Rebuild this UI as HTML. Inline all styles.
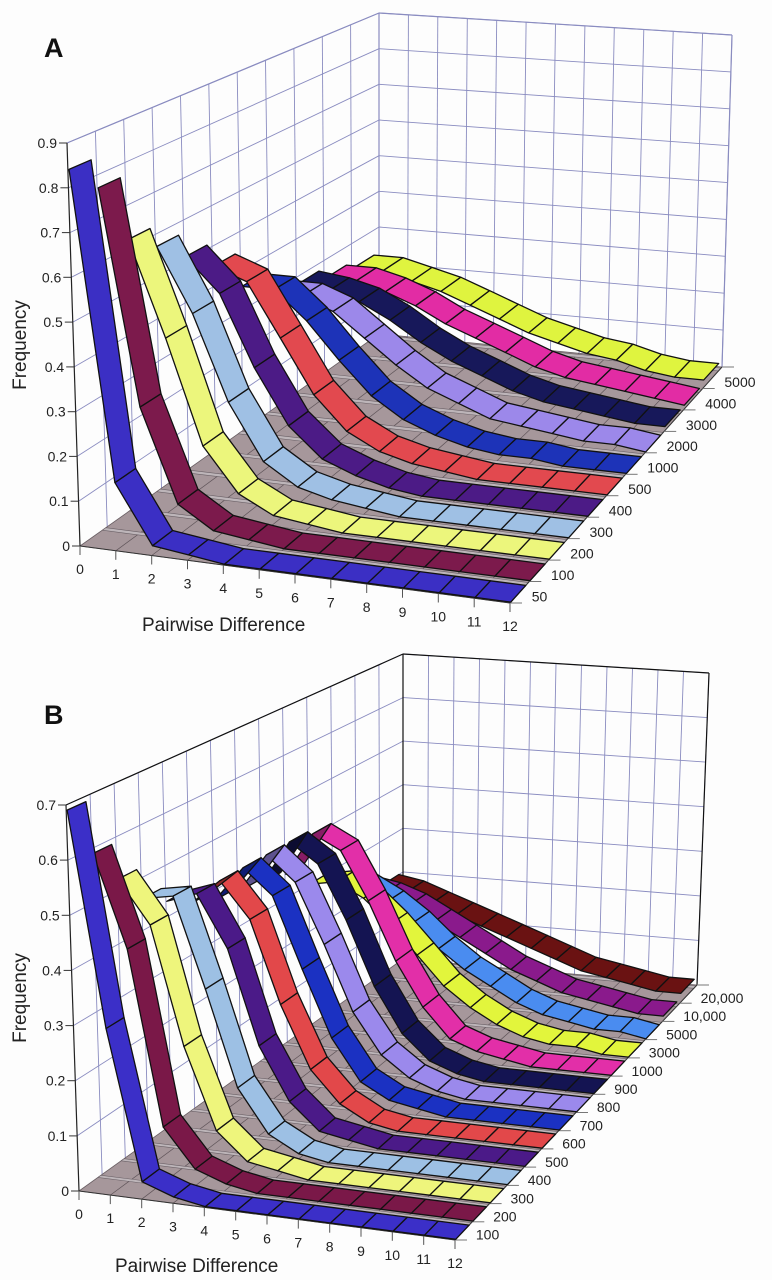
<!DOCTYPE html>
<html><head><meta charset="utf-8"><title>Pairwise difference frequency charts</title>
<style>
html,body{margin:0;padding:0;background:#fff;}
svg{display:block;font-family:"Liberation Sans",Arial,sans-serif;}
</style></head>
<body>
<svg id="chart" xmlns="http://www.w3.org/2000/svg" width="772" height="1280" viewBox="0 0 772 1280">
<rect x="0" y="0" width="772" height="1280" fill="#fdfdfd"/>
<g id="panelA"></g>
<g id="panelB"></g>
<text x="44" y="57" font-size="27" font-weight="bold" fill="#111">A</text>
<text x="44" y="724" font-size="27" font-weight="bold" fill="#111">B</text>
<text transform="translate(26,345) rotate(-90)" text-anchor="middle" font-size="19" fill="#222">Frequency</text>
<text transform="translate(26,998) rotate(-90)" text-anchor="middle" font-size="19" fill="#222">Frequency</text>
<text x="142" y="631" font-size="19" fill="#222">Pairwise Difference</text>
<text x="115" y="1272" font-size="19" fill="#222">Pairwise Difference</text>
</svg>
<script>
// ---------- Panel A data ----------
const aCategories = [0,1,2,3,4,5,6,7,8,9,10,11,12];
const aYTicks = ["0","0.1","0.2","0.3","0.4","0.5","0.6","0.7","0.8","0.9"];
const aSeriesLabels = ["50","100","200","300","400","500","1000","2000","3000","4000","5000"];
const aS50   = [0.84,0.15,0.02,0.01,0,0,0,0,0,0,0,0,0];
const aS100  = [0.77,0.28,0.07,0.02,0.01,0,0,0,0,0,0,0,0];
const aS200  = [0.62,0.40,0.16,0.06,0.02,0.01,0,0,0,0,0,0,0];
const aS300  = [0.57,0.42,0.22,0.09,0.04,0.02,0.01,0,0,0,0,0,0];
const aS400  = [0.51,0.43,0.26,0.13,0.06,0.03,0.01,0,0,0,0,0,0];
const aS500  = [0.45,0.42,0.29,0.16,0.08,0.04,0.02,0.01,0,0,0,0,0];
const aS1000 = [0.36,0.36,0.29,0.20,0.12,0.07,0.04,0.02,0.01,0.01,0,0,0];
const aS2000 = [0.30,0.30,0.27,0.21,0.15,0.10,0.07,0.04,0.03,0.02,0.01,0.01,0];
const aS3000 = [0.28,0.27,0.25,0.21,0.16,0.12,0.09,0.06,0.04,0.03,0.02,0.01,0.01];
const aS4000 = [0.25,0.25,0.23,0.20,0.16,0.13,0.10,0.07,0.05,0.04,0.03,0.02,0.01];
const aS5000 = [0.23,0.23,0.21,0.19,0.16,0.13,0.10,0.08,0.06,0.05,0.03,0.02,0.02];
const aColors = ["#3b2fc4","#7c1a4c","#ecf67c","#9fc0e4","#4c1b86","#e2494f","#1d33b8","#9c88ea","#17185a","#e22ca4","#dff43f"];

// ---------- Panel B data ----------
const bCategories = [0,1,2,3,4,5,6,7,8,9,10,11,12];
const bYTicks = ["0","0.1","0.2","0.3","0.4","0.5","0.6","0.7"];
const bSeriesLabels = ["100","200","300","400","500","600","700","800","900","1000","3000","5000","10,000","20,000"];
const bS100   = [0.69,0.30,0.03,0.01,0,0,0,0,0,0,0,0,0];
const bS200   = [0.59,0.42,0.10,0.03,0.01,0,0,0,0,0,0,0,0];
const bS300   = [0.52,0.44,0.22,0.07,0.02,0.01,0,0,0,0,0,0,0];
const bS400   = [0.46,0.47,0.30,0.12,0.04,0.01,0,0,0,0,0,0,0];
const bS500   = [0.43,0.45,0.35,0.17,0.07,0.02,0.01,0,0,0,0,0,0];
const bS600   = [0.40,0.45,0.38,0.22,0.10,0.04,0.01,0,0,0,0,0,0];
const bS700   = [0.38,0.45,0.40,0.26,0.13,0.05,0.02,0.01,0,0,0,0,0];
const bS800   = [0.37,0.45,0.40,0.28,0.15,0.07,0.03,0.01,0,0,0,0,0];
const bS900   = [0.36,0.45,0.41,0.30,0.17,0.08,0.03,0.01,0,0,0,0,0];
const bS1000  = [0.35,0.44,0.41,0.31,0.19,0.10,0.04,0.02,0.01,0,0,0,0];
const bS3000  = [0.30,0.31,0.28,0.23,0.17,0.11,0.07,0.04,0.02,0.01,0.01,0,0];
const bS5000  = [0.27,0.27,0.24,0.20,0.15,0.11,0.08,0.05,0.03,0.02,0.01,0.01,0];
const bS10000 = [0.23,0.22,0.20,0.17,0.14,0.11,0.08,0.06,0.04,0.03,0.02,0.01,0.01];
const bS20000 = [0.20,0.19,0.17,0.15,0.13,0.11,0.09,0.07,0.05,0.04,0.03,0.02,0.02];
const bColors = ["#3b2fc8","#7a1848","#eef57c","#9dc0e4","#4b1a88","#e2484a","#1b31c2","#9b89ec","#141452","#e22fa8","#e2f53c","#4a8cf0","#8a1a8c","#6a1212"];

const aSeries = [aS50,aS100,aS200,aS300,aS400,aS500,aS1000,aS2000,aS3000,aS4000,aS5000];
const bSeries = [bS100,bS200,bS300,bS400,bS500,bS600,bS700,bS800,bS900,bS1000,bS3000,bS5000,bS10000,bS20000];

const NS = "http://www.w3.org/2000/svg";
function mk(parent, tag, attrs){
  const el = document.createElementNS(NS, tag);
  for (const k in attrs) el.setAttribute(k, attrs[k]);
  parent.appendChild(el);
  return el;
}
function shade(hex, f){
  const n = parseInt(hex.slice(1),16);
  const r = Math.round(((n>>16)&255)*f), g = Math.round(((n>>8)&255)*f), b = Math.round((n&255)*f);
  return "rgb("+r+","+g+","+b+")";
}

function drawPanel(g, geo, cats, yTicks, yStep, labels, series, colors, wallStroke, edgeStroke){
  const ymax = yStep*(yTicks.length-1);
  const N = series.length;
  const xmax = cats[cats.length-1];
  function lerp(a,b,t){ return [a[0]+(b[0]-a[0])*t, a[1]+(b[1]-a[1])*t]; }
  function P(u,v,h){
    const fb = lerp(lerp(geo.FLb,geo.FRb,u), lerp(geo.BLb,geo.BRb,u), v);
    const ft = lerp(lerp(geo.FLt,geo.FRt,u), lerp(geo.BLt,geo.BRt,u), v);
    return [fb[0]+(ft[0]-fb[0])*h, fb[1]+(ft[1]-fb[1])*h];
  }
  const xs = function(x){ return x/xmax; };
  const hs = function(y){ return y/ymax; };
  function line(a,b,stroke,w,name){
    const el = mk(g,"line",{x1:a[0].toFixed(1),y1:a[1].toFixed(1),x2:b[0].toFixed(1),y2:b[1].toFixed(1),stroke:stroke,"stroke-width":w});
    
    
    return el;
  }
  function poly(pts, fill, stroke, w, name){
    const el = mk(g,"polygon",{points:pts.map(p=>p[0].toFixed(1)+","+p[1].toFixed(1)).join(" "),fill:fill,stroke:stroke,"stroke-width":w,"stroke-linejoin":"round"});
    
    
    return el;
  }
  for (let j=1;j<yTicks.length;j++){
    const h = hs(j*yStep);
    line(P(0,0,h),P(0,1,h),wallStroke,0.9,"left-wall-gridline");
    line(P(0,1,h),P(1,1,h),wallStroke,0.9,"back-wall-gridline");
  }
  for (let i=1;i<=N;i++){
    const v = i/N;
    line(P(0,v,0),P(0,v,1),wallStroke,0.9,"left-wall-vertical-gridline");
  }
  for (let k=0;k<cats.length;k++){
    const u = xs(cats[k]);
    line(P(u,1,0),P(u,1,1),wallStroke,0.9,"back-wall-vertical-gridline");
  }
  line(P(0,0,1),P(0,1,1),edgeStroke,1.2,"left-wall-top-edge");
  line(P(0,1,1),P(1,1,1),edgeStroke,1.2,"back-wall-top-edge");
  line(P(0,1,0),P(0,1,1),edgeStroke,1.2,"back-corner-edge");
  line(P(1,1,0),P(1,1,1),edgeStroke,1.2,"back-right-edge");
  poly([P(0,0,0),P(1,0,0),P(1,1,0),P(0,1,0)],"#a6979b","#6a5f64",0.8,"floor");
  for (let k=1;k<cats.length-1;k++){
    const u = xs(cats[k]);
    line(P(u,0,0),P(u,1,0),"#5f5459",0.7,"floor-gridline");
  }
  for (let i=0;i<N;i++){
    poly([P(0,(i+0.82)/N,0),P(1,(i+0.82)/N,0),P(1,(i+0.95)/N,0),P(0,(i+0.95)/N,0)],"#bdb5b9","#6a6066",0.6,"ribbon-shadow-strip");
  }
  line(P(0,0,0),P(0,0,1),"#222",1.2,"y-axis-line");
  for (let j=0;j<yTicks.length;j++){
    const p = P(0,0,hs(j*yStep));
    line(p,[p[0]-8,p[1]],"#333",1,"y-tick");
    const t = mk(g,"text",{x:(p[0]-10).toFixed(1),y:(p[1]+5).toFixed(1),"text-anchor":"end","font-size":"14",fill:"#222"});
    
    
    t.textContent = yTicks[j];
  }
  line(P(0,0,0),P(1,0,0),"#333",1,"x-axis-line");
  for (let k=0;k<cats.length;k++){
    const p = P(xs(cats[k]),0,0);
    line(p,[p[0],p[1]+9],"#555",1,"x-tick");
    const t = mk(g,"text",{x:(p[0]).toFixed(1),y:(p[1]+28).toFixed(1),"text-anchor":"middle","font-size":"14",fill:"#222"});
    
    
    t.textContent = String(cats[k]);
  }
  line(P(1,0,0),P(1,1,0),"#333",1,"depth-axis-line");
  for (let i=0;i<=N;i++){
    const p = P(1,i/N,0);
    line(p,[p[0]+12,p[1]],"#777",1,"depth-tick");
  }
  for (let i=0;i<N;i++){
    const p = P(1,(i+0.4)/N,0);
    const t = mk(g,"text",{x:(p[0]+14).toFixed(1),y:(p[1]+7).toFixed(1),"font-size":"14",fill:"#222"});
    
    
    t.textContent = labels[i];
  }
  for (let i=N-1;i>=0;i--){
    const vals = series[i];
    const vf = (i+0.04)/N, vb = (i+0.82)/N;
    const sg = mk(g,"g",{});
    
    
    for (let k=vals.length-2;k>=0;k--){
      const u0 = xs(cats[k]), u1 = xs(cats[k+1]);
      const h0 = hs(vals[k]), h1 = hs(vals[k+1]);
      const p0 = P(u0,vf,h0), p1 = P(u1,vf,h1), p2 = P(u1,vb,h1), p3 = P(u0,vb,h0);
      const cross = (p1[0]-p0[0])*(p3[1]-p0[1]) - (p1[1]-p0[1])*(p3[0]-p0[0]);
      const fill = cross < 0 ? colors[i] : shade(colors[i],0.6);
      const el = mk(sg,"polygon",{points:[p0,p1,p2,p3].map(p=>p[0].toFixed(1)+","+p[1].toFixed(1)).join(" "),fill:fill,stroke:"#111","stroke-width":"1.3","stroke-linejoin":"round"});
      
      
    }
  }
}

const geoA = {FLb:[80,546],FLt:[67,143],BLb:[379,334],BLt:[379,13],BRb:[722,367],BRt:[732,35],FRb:[510,603],FRt:[508,182]};
const geoB = {FLb:[79,1191],FLt:[66,805],BLb:[403,959],BLt:[403,654],BRb:[697,985],BRt:[709,673],FRb:[455,1240],FRt:[452,838]};
drawPanel(document.getElementById("panelA"), geoA, aCategories, aYTicks, 0.1, aSeriesLabels, aSeries, aColors, "#8a8cc0", "#8a8cc0");
drawPanel(document.getElementById("panelB"), geoB, bCategories, bYTicks, 0.1, bSeriesLabels, bSeries, bColors, "#8a8cc0", "#111");
</script>
</body></html>
